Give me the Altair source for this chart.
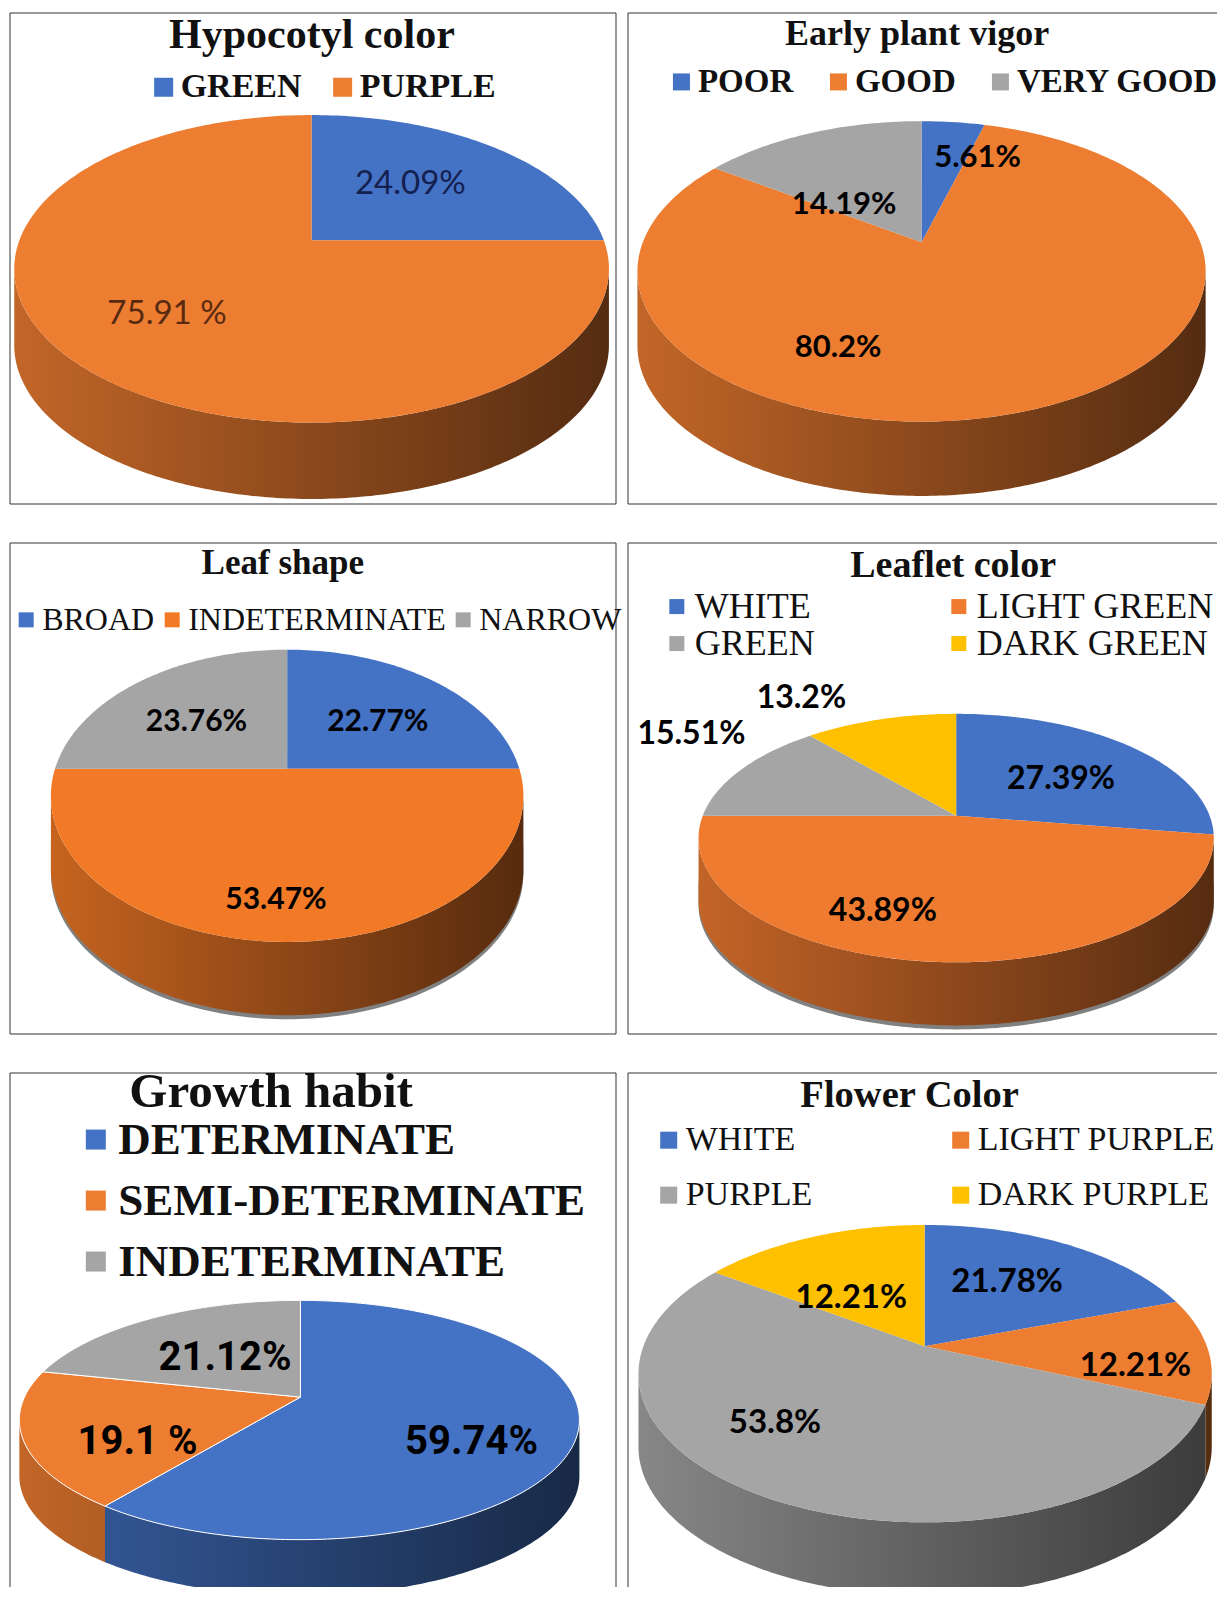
import math
import altair as alt
import pandas as pd

BLUE, ORANGE, GRAY, GOLD = "#4472C4", "#ED7D31", "#A5A5A5", "#FFC000"
S = 1225 / 1203  # reading scale of the measurements below
OX, OY = 10, 13  # where the plot area starts on the page
WIDTH, HEIGHT = 1207, 1574

# *_vals: slice sizes as drawn in the picture; *_text: the percentages printed on them
hypocotyl_cats = ["GREEN", "PURPLE"]
hypocotyl_text = ["24.09%", "75.91 %"]
hypocotyl_vals = [25, 75]

vigor_cats = ["POOR", "GOOD", "VERY GOOD"]
vigor_vals = [4.4, 80.1, 15.5]
vigor_text = ["5.61%", "80.2%", "14.19%"]

leaf_cats = ["BROAD", "INDETERMINATE", "NARROW"]
leaf_vals = [25, 50, 25]
leaf_text = ["22.77%", "53.47%", "23.76%"]

leaflet_cats = ["WHITE", "LIGHT GREEN", "GREEN", "DARK GREEN"]
leaflet_vals = [27.4, 47.6, 13.5, 11.5]
leaflet_text = ["27.39%", "43.89%", "15.51%", "13.2%"]

habit_cats = ["DETERMINATE", "SEMI-DETERMINATE", "INDETERMINATE"]
habit_vals = [60.4, 18.2, 21.4]
habit_text = ["59.74%", "19.1 %", "21.12%"]

flower_cats = ["WHITE", "LIGHT PURPLE", "PURPLE", "DARK PURPLE"]
flower_vals = [19.8, 11.3, 53.4, 15.5]
flower_text = ["21.78%", "12.21%", "53.8%", "12.21%"]

SANS = "Lato"
SERIF = "Liberation Serif"

FRAMES = pd.DataFrame(
    [dict(x=x0, x2=x1, y=y0, y2=y1)
     for x0, x1 in ((0, 606), (618, 640 + 606))
     for y0, y1 in ((0, 491), (530, 1021), (1060, 1600))])

PANELS = [
    dict(title="Hypocotyl color", cats=hypocotyl_cats, vals=hypocotyl_vals, text=hypocotyl_text,
         colors=[BLUE, ORANGE],
         rim=(14, 598, 113, 415), apex=(306, 236), depth=75,
         lab=[(403, 181), (164, 308)], lfont=(SANS, 33, "normal"), lcolor=["#14204f", "#5a2a10"],
         tpos=(166, 47), tsize=42,
         leg=dict(x=144, y=69, cols=2, size=34, weight="bold", sym=19, cp=24, rp=0, off=0)),
    dict(title="Early plant vigor", cats=vigor_cats, vals=vigor_vals, text=vigor_text,
         colors=[BLUE, ORANGE, GRAY],
         rim=(626, 1184, 119, 414), apex=(905, 238), depth=73,
         lab=[(960, 155), (823, 342), (829, 201)], lfont=(SANS, 31, "bold"), lcolor=["#000"] * 3,
         tpos=(771, 44), tsize=36,
         leg=dict(x=653, y=64, cols=3, size=33, weight="bold", sym=17, cp=28, rp=0, off=0)),
    dict(title="Leaf shape", cats=leaf_cats, vals=leaf_vals, text=leaf_text,
         colors=[BLUE, "#F27A27", GRAY],
         rim=(50, 514, 638, 925), apex=(282, 755), depth=72, shadow=True,
         lab=[(371, 709), (271, 884), (193, 709)], lfont=(SANS, 30, "bold"), lcolor=["#000"] * 3,
         tpos=(198, 564), tsize=35,
         leg=dict(x=10, y=593, cols=3, size=32, weight="normal", sym=15, cp=1, rp=0, off=0)),
    dict(title="Leaflet color", cats=leaflet_cats, vals=leaflet_vals, text=leaflet_text,
         colors=[BLUE, "#EF7B30", GRAY, GOLD],
         rim=(686, 1192, 701, 945), apex=(939, 801), depth=62, shadow=True,
         lab=[(1042, 765), (867, 895), (679, 721), (787, 685)], lfont=(SANS, 32, "bold"), lcolor=["#000"] * 4,
         tpos=(835, 567), tsize=38,
         leg=dict(x=647, y=578, cols=2, size=36, weight="normal", sym=15, cp=126, rp=1, off=0)),
    dict(title="Growth habit", cats=habit_cats, vals=habit_vals, text=habit_text,
         colors=[BLUE, ORANGE, GRAY],
         rim=(19, 569, 1277, 1512), apex=(295, 1372), depth=55, edge="white",
         lab=[(463, 1416), (135, 1416), (221, 1334)], lfont=("Roboto", 40, "bold"), lcolor=["#000"] * 3,
         tpos=(127, 1087), tsize=49,
         leg=dict(x=72, y=1097, cols=1, size=45, weight="bold", sym=20, cp=0, rp=15, off=0)),
    dict(title="Flower Color", cats=flower_cats, vals=flower_vals, text=flower_text,
         colors=[BLUE, ORANGE, GRAY, GOLD],
         rim=(627, 1190, 1203, 1495), apex=(908, 1322), depth=72,
         lab=[(989, 1259), (1115, 1341), (761, 1397), (836, 1275)], lfont=(SANS, 33, "bold"), lcolor=["#000"] * 4,
         tpos=(786, 1087), tsize=38.5,
         leg=dict(x=640, y=1103, cols=2, size=34, weight="normal", sym=17, cp=131, rp=21, off=0)),
]

DOM_X = alt.Scale(domain=[0, WIDTH], nice=False, zero=False)
DOM_Y = alt.Scale(domain=[HEIGHT, 0], nice=False, zero=False)
ENC_X = alt.X("x:Q", scale=DOM_X, axis=None)
ENC_Y = alt.Y("y:Q", scale=DOM_Y, axis=None)


def shade(hex_color, f):
    r, g, b = (int(hex_color[i:i + 2], 16) for i in (1, 3, 5))
    return "#%02x%02x%02x" % (int(r * f), int(g * f), int(b * f))


def X(d):
    return d * S - OX


def Y(d):
    return d * S - OY


def build(p):
    l, r, t, b = p["rim"]
    cx, cy = X((l + r) / 2), Y((t + b) / 2)
    a, bb = (r - l) / 2 * S, (b - t) / 2 * S
    ax, ay = X(p["apex"][0]), Y(p["apex"][1])
    depth = p["depth"] * S

    def pt(tt):
        return cx + a * math.sin(tt), cy - bb * math.cos(tt)

    def rim_t(frac):
        th = 2 * math.pi * frac
        dx, dy = a * math.sin(th), -bb * math.cos(th)
        ex, ey = ax - cx, ay - cy
        A = (dx / a) ** 2 + (dy / bb) ** 2
        B = 2 * (ex * dx / a ** 2 + ey * dy / bb ** 2)
        C = (ex / a) ** 2 + (ey / bb) ** 2 - 1
        s = (-B + math.sqrt(B * B - 4 * A * C)) / (2 * A)
        px, py = ax + s * dx, ay + s * dy
        return math.atan2((px - cx) / a, -(py - cy) / bb)

    total = sum(p["vals"])
    cum = 0.0
    rows, layers = [], []
    first = rim_t(0.0)
    prev = first
    for k, (cat, v, col) in enumerate(zip(p["cats"], p["vals"], p["colors"])):
        cum += v
        t0 = prev
        if k == len(p["vals"]) - 1:
            t1 = first + 2 * math.pi
        else:
            t1 = rim_t(cum / total)
            while t1 <= t0:
                t1 += 2 * math.pi
        prev = t1
        n = max(8, int((t1 - t0) * 60))
        poly = [(ax, ay)] + [pt(t0 + (t1 - t0) * i / n) for i in range(n + 1)] + [(ax, ay)]
        rows += [dict(cat=cat, i=i, x=x, y=y) for i, (x, y) in enumerate(poly)]
        s0, s1 = max(t0, math.pi / 2), min(t1, 3 * math.pi / 2)
        if s1 > s0:
            m = max(4, int((s1 - s0) * 60))
            side = [pt(s0 + (s1 - s0) * i / m) for i in range(m + 1)]
            df = pd.DataFrame([dict(x=x, y=y, y2=y + depth) for x, y in side])
            x_lo, x_hi = df.x.min(), df.x.max()
            fac = lambda xv: 0.82 - 0.46 * (xv - (cx - a)) / (2 * a)
            grad = alt.Gradient(
                gradient="linear", x1=0, x2=1, y1=0, y2=0,
                stops=[alt.GradientStop(offset=o, color=shade(col, fac(x_lo + o * (x_hi - x_lo))))
                       for o in (0, 0.5, 1)])
            layers.append(alt.Chart(df).mark_area(fill=grad, opacity=1).encode(x=ENC_X, y=ENC_Y, y2="y2:Q"))
    if p.get("shadow"):
        side = [pt(math.pi / 2 + math.pi * i / 120) for i in range(121)]
        sd = pd.DataFrame([dict(x=x, y=y + depth * 0.6, y2=y + depth + 4) for x, y in side])
        layers.insert(0, alt.Chart(sd).mark_area(fill="#555555", opacity=0.75).encode(x=ENC_X, y=ENC_Y, y2="y2:Q"))

    lg = p["leg"]
    legend = alt.Legend(
        title=None, orient="none",
        legendX=X(lg["x"]), legendY=Y(lg["y"]), columns=lg["cols"],
        direction="horizontal" if lg["cols"] > 1 else "vertical",
        columnPadding=lg["cp"], rowPadding=lg["rp"], symbolType="square", symbolSize=lg["sym"] ** 2,
        symbolStrokeWidth=0, labelFont=SERIF, labelFontSize=lg["size"], labelFontWeight=lg["weight"],
        labelColor="#111111", labelOffset=lg["off"], labelLimit=700, gridAlign="each", padding=0)
    edge = p.get("edge")
    layers.append(alt.Chart(pd.DataFrame(rows)).mark_line(
        **(dict(stroke=edge, strokeWidth=1) if edge else dict(strokeWidth=0))
    ).encode(
        x=ENC_X, y=ENC_Y,
        fill=alt.Fill("cat:N", scale=alt.Scale(domain=p["cats"], range=p["colors"]), sort=p["cats"], legend=legend),
        order="i:Q"))

    font, size, weight = p["lfont"]
    labs = pd.DataFrame([dict(t=s, x=X(q[0]), y=Y(q[1]), c=c)
                         for s, q, c in zip(p["text"], p["lab"], p["lcolor"])])
    layers.append(alt.Chart(labs).mark_text(
        font=font, fontSize=size, fontWeight=weight, align="center", baseline="middle"
    ).encode(x=ENC_X, y=ENC_Y, text="t:N", color=alt.Color("c:N", scale=None)))

    ttl = pd.DataFrame([dict(t=p["title"], x=X(p["tpos"][0]), y=Y(p["tpos"][1]))])
    layers.append(alt.Chart(ttl).mark_text(
        font=SERIF, fontSize=p["tsize"], fontWeight="bold", color="#111111", align="left", baseline="alphabetic"
    ).encode(x=ENC_X, y=ENC_Y, text="t:N"))
    return layers


frames = alt.Chart(FRAMES).mark_rect(fill="white", stroke="#333333", strokeWidth=1).encode(
    x=ENC_X, x2="x2:Q", y=ENC_Y, y2="y2:Q")
all_layers = [frames]
for p in PANELS:
    all_layers += build(p)

chart = alt.layer(*all_layers).resolve_scale(fill="independent").properties(
    width=WIDTH, height=HEIGHT,
    padding={"left": 2, "top": 5, "right": 0, "bottom": 0},
    autosize=alt.AutoSizeParams(type="none"),
).configure_view(stroke=None)

chart.save("out.html", embed_options={"renderer": "svg", "actions": False})
